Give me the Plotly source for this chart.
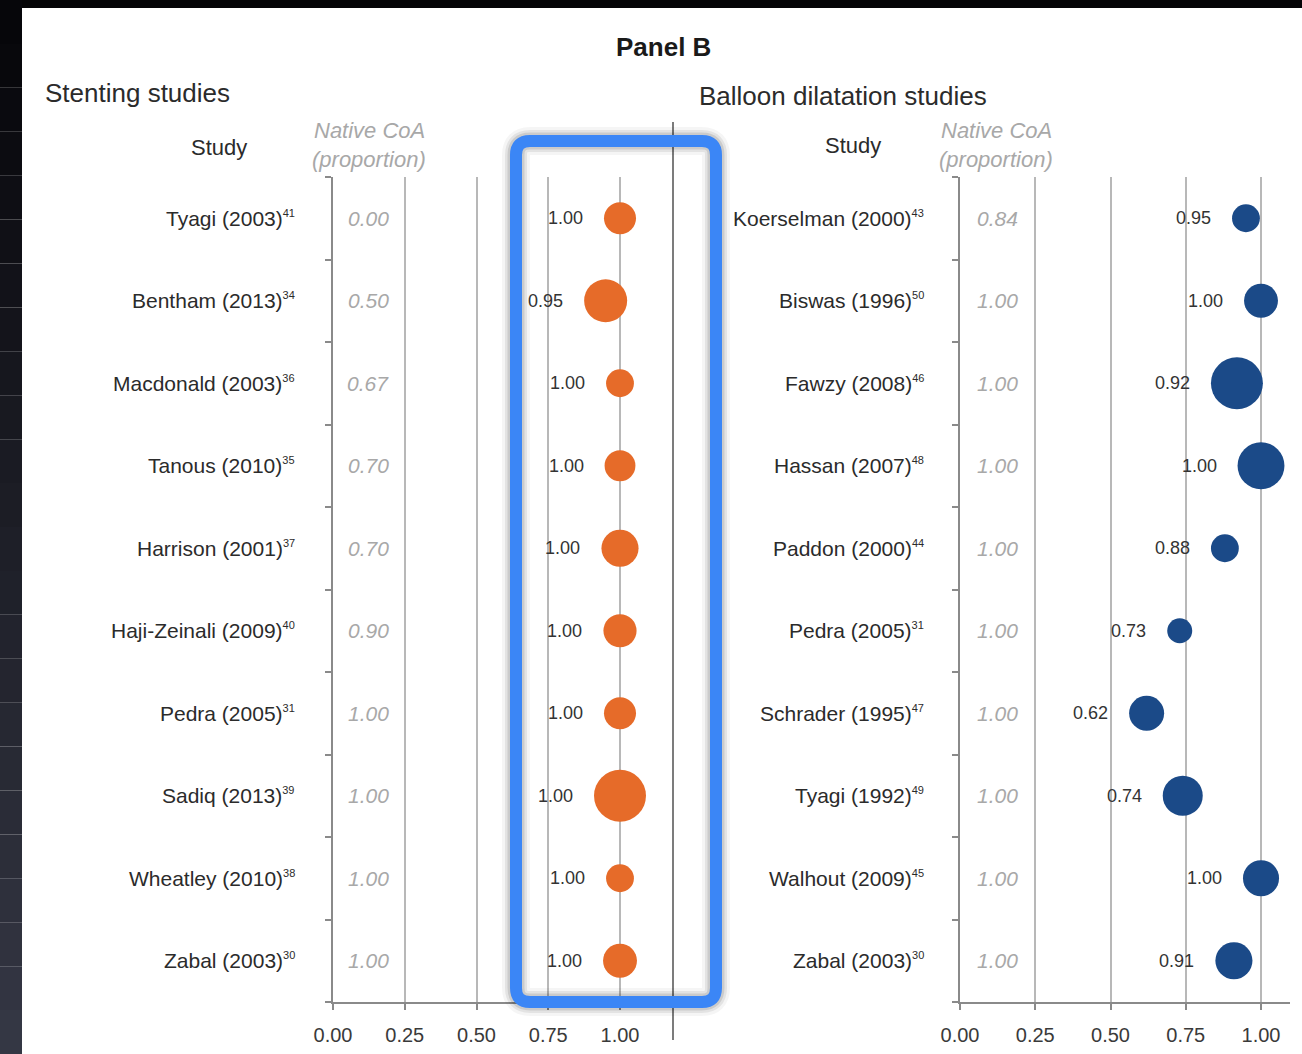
import math
import plotly.graph_objects as go

W, H = 1302, 1054

# ---- Stenting studies -------------------------------------------------------
stent_studies = ["Tyagi (2003)", "Bentham (2013)", "Macdonald (2003)", "Tanous (2010)",
                 "Harrison (2001)", "Haji-Zeinali (2009)", "Pedra (2005)", "Sadiq (2013)",
                 "Wheatley (2010)", "Zabal (2003)"]
stent_refs = ["41", "34", "36", "35", "37", "40", "31", "39", "38", "30"]
stent_native = [0.00, 0.50, 0.67, 0.70, 0.70, 0.90, 1.00, 1.00, 1.00, 1.00]
stent_success = [1.00, 0.95, 1.00, 1.00, 1.00, 1.00, 1.00, 1.00, 1.00, 1.00]
stent_weight = [41, 74, 31, 38, 55, 44, 41, 108, 31, 46]

# ---- Balloon dilatation studies ---------------------------------------------
balloon_studies = ["Koerselman (2000)", "Biswas (1996)", "Fawzy (2008)", "Hassan (2007)",
                   "Paddon (2000)", "Pedra (2005)", "Schrader (1995)", "Tyagi (1992)",
                   "Walhout (2009)", "Zabal (2003)"]
balloon_refs = ["43", "50", "46", "48", "44", "31", "47", "49", "45", "30"]
balloon_native = [0.84, 1.00, 1.00, 1.00, 1.00, 1.00, 1.00, 1.00, 1.00, 1.00]
balloon_success = [0.95, 1.00, 0.92, 1.00, 0.88, 0.73, 0.62, 0.74, 1.00, 0.91]
balloon_weight = [31, 46, 108, 88, 31, 25, 49, 64, 52, 55]

x_ticks = [0.00, 0.25, 0.50, 0.75, 1.00]
x_tick_text = ["0.00", "0.25", "0.50", "0.75", "1.00"]

FONT = "Liberation Sans, Arial, Helvetica, sans-serif"
ORANGE = "#e66b29"
NAVY = "#1b4a88"
BLUE = "#3b86f6"


def px(x):
    return x / W


def py(y):
    return 1 - y / H


def diameter(w):
    return 5 * math.sqrt(w)


rows = list(range(len(stent_studies)))

fig = go.Figure()

fig.add_trace(go.Scatter(
    x=stent_success, y=rows, xaxis="x", yaxis="y", mode="markers",
    marker=dict(size=[diameter(w) for w in stent_weight], color=ORANGE,
                line=dict(width=0), opacity=1),
    hoverinfo="skip", showlegend=False))

fig.add_trace(go.Scatter(
    x=balloon_success, y=rows, xaxis="x2", yaxis="y2", mode="markers",
    marker=dict(size=[diameter(w) for w in balloon_weight], color=NAVY,
                line=dict(width=0), opacity=1),
    hoverinfo="skip", showlegend=False))

annotations = []
base_font = dict(family=FONT, color="#2b2b2b")


def panel_rows(studies, refs, native, success, weight, xref, yref, name_x, native_x):
    for i in rows:
        annotations.append(dict(
            text=f"{studies[i]}<sup><span style='font-size:11px'>{refs[i]}</span></sup>",
            x=px(name_x), xref="paper",
            y=i, yref=yref, xanchor="right", yanchor="middle", showarrow=False,
            font=dict(base_font, size=21)))
        annotations.append(dict(
            text=f"<i>{native[i]:.2f}</i>", x=px(native_x), xref="paper",
            y=i, yref=yref, xanchor="center", yanchor="middle", showarrow=False,
            font=dict(family=FONT, size=21, color="#a8a8a8")))
        annotations.append(dict(
            text=f"{success[i]:.2f}", x=success[i], xref=xref,
            y=i, yref=yref, xanchor="right", yanchor="middle", showarrow=False,
            xshift=-(diameter(weight[i]) / 2 + 19),
            font=dict(base_font, size=18, color="#333333")))


panel_rows(stent_studies, stent_refs, stent_native, stent_success, stent_weight,
           "x", "y", 297, 368)
panel_rows(balloon_studies, balloon_refs, balloon_native, balloon_success, balloon_weight,
           "x2", "y2", 926, 997)

headers = [
    ("<b>Panel B</b>", 663, 47, 26, "#1a1a1a", "center", False),
    ("Stenting studies", 43, 93, 26, "#2b2b2b", "left", False),
    ("Balloon dilatation studies", 697, 96, 26, "#2b2b2b", "left", False),
    ("Study", 219, 148, 22, "#2b2b2b", "center", False),
    ("Study", 853, 145, 22, "#2b2b2b", "center", False),
    ("Native CoA", 369, 131, 22, "#a8a8a8", "center", True),
    ("(proportion)", 369, 159, 22, "#a8a8a8", "center", True),
    ("Native CoA", 996, 131, 22, "#a8a8a8", "center", True),
    ("(proportion)", 996, 159, 22, "#a8a8a8", "center", True),
]
for text, hx, hy, size, color, anchor, italic in headers:
    annotations.append(dict(
        text=f"<i>{text}</i>" if italic else text, x=px(hx), y=py(hy),
        xref="paper", yref="paper", xanchor=anchor, yanchor="middle",
        showarrow=False, font=dict(family=FONT, size=size, color=color)))

shapes = []

# dark frame along the top and left edges
shapes.append(dict(type="rect", xref="paper", yref="paper", x0=0, x1=1,
                   y0=py(8), y1=1, fillcolor="#050507", line=dict(width=0), layer="below"))
n_slices = 24
c0, c1 = (6, 6, 10), (52, 55, 68)
for k in range(n_slices):
    t = k / (n_slices - 1)
    col = tuple(int(c0[j] + (c1[j] - c0[j]) * t) for j in range(3))
    y_top = H * k / n_slices
    y_bot = H * (k + 1) / n_slices
    shapes.append(dict(type="rect", xref="paper", yref="paper", x0=0, x1=px(22),
                       y0=py(y_bot), y1=py(y_top), fillcolor="rgb(%d,%d,%d)" % col,
                       line=dict(width=0), layer="below"))

# divider between the two panels
shapes.append(dict(type="line", xref="paper", yref="paper", x0=px(673), x1=px(673),
                   y0=py(122), y1=py(1040), line=dict(color="#7c7c7c", width=2)))


def rounded_rect(x0, y0, x1, y1, r):
    def p(x, y):
        return f"{px(x):.5f},{py(y):.5f}"
    return (f"M {p(x0 + r, y0)} L {p(x1 - r, y0)} Q {p(x1, y0)} {p(x1, y0 + r)} "
            f"L {p(x1, y1 - r)} Q {p(x1, y1)} {p(x1 - r, y1)} "
            f"L {p(x0 + r, y1)} Q {p(x0, y1)} {p(x0, y1 - r)} "
            f"L {p(x0, y0 + r)} Q {p(x0, y0)} {p(x0 + r, y0)} Z")


box = rounded_rect(516, 141, 716, 1002, 14)
for wdt, col in [(28, "rgba(0,0,0,0.04)"), (22, "rgba(0,0,0,0.07)"), (17, "rgba(0,0,0,0.10)")]:
    shapes.append(dict(type="path", path=box, xref="paper", yref="paper",
                       line=dict(color=col, width=wdt), layer="above"))
shapes.append(dict(type="path", path=box, xref="paper", yref="paper",
                   line=dict(color=BLUE, width=12), layer="above"))


def x_axis(domain_px, unit_px):
    span = (domain_px[1] - domain_px[0]) / unit_px
    return dict(domain=[px(domain_px[0]), px(domain_px[1])], range=[0, span],
                tickvals=x_ticks, ticktext=x_tick_text, ticks="outside", ticklen=6,
                tickcolor="#8a8a8a", tickwidth=1.5, showline=True, linecolor="#8a8a8a",
                linewidth=1.5, showgrid=True, gridcolor="#b8b8b8", gridwidth=1.5,
                zeroline=False, ticklabelstandoff=8, automargin=False,
                tickfont=dict(family=FONT, size=20, color="#3a3a3a"), fixedrange=True)


def y_axis(anchor):
    return dict(domain=[py(1002), py(177)], range=[9.5, -0.5], anchor=anchor,
                tickvals=[k - 0.5 for k in range(len(rows) + 1)], ticks="outside",
                ticklen=6, tickcolor="#8a8a8a", tickwidth=1.5, showticklabels=False,
                showline=True, linecolor="#8a8a8a", linewidth=1.5, showgrid=False,
                zeroline=False, automargin=False, fixedrange=True)


xa = x_axis((333, 660), 287)
xa["anchor"] = "y"
xb = x_axis((960, 1290), 301)
xb["anchor"] = "y2"

fig.update_layout(
    width=W, height=H, margin=dict(l=0, r=0, t=0, b=0, pad=0, autoexpand=False),
    paper_bgcolor="#ffffff", plot_bgcolor="rgba(0,0,0,0)",
    xaxis=xa, xaxis2=xb, yaxis=y_axis("x"), yaxis2=y_axis("x2"),
    annotations=annotations, shapes=shapes, showlegend=False,
    font=dict(family=FONT),
)

fig.write_html("out.html", config=dict(displayModeBar=False))
